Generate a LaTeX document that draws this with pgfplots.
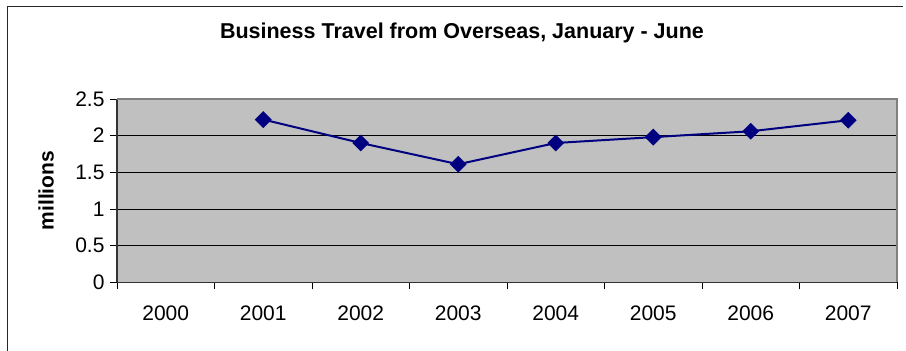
\documentclass[border=0pt]{standalone}
\usepackage{fontspec}
\setmainfont{Liberation Sans}
\usepackage{pgfplots}
\pgfplotsset{compat=1.18}
\definecolor{plotbg}{HTML}{C0C0C0}
\definecolor{navy}{HTML}{000080}
\definecolor{frametop}{HTML}{808080}
\begin{document}
\begin{tikzpicture}[x=1pt,y=1pt]
\useasboundingbox (0,0) rectangle (906,351);
\draw[line width=1.5pt, black!85] (7.5,-2) -- (7.5,344.5) -- (903,344.5);
\node[font=\fontsize{21.5}{25}\selectfont\bfseries, anchor=base] at (462,312) {Business Travel from Overseas, January - June};
\begin{axis}[
  at={(117pt,68.7pt)}, anchor=south west,
  width=780pt, height=183.3pt, scale only axis,
  xmin=-0.5, xmax=7.5, ymin=0, ymax=2.5,
  axis background/.style={fill=plotbg},
  axis x line*=bottom, axis y line*=left,
  axis line style={line width=1.2pt, black!80, -},
  xtick={0,1,2,3,4,5,6,7},
  xticklabels={2000,2001,2002,2003,2004,2005,2006,2007},
  major x tick style={draw=none},
  minor xtick={-0.5,0.5,1.5,2.5,3.5,4.5,5.5,6.5,7.5},
  ytick={0,0.5,1,1.5,2,2.5},
  yticklabels={0,0.5,1,1.5,2,2.5},
  ymajorgrids,
  grid style={black, line width=0.8pt},
  tick align=outside,
  tick style={black, line width=0.8pt},
  major tick length=7pt, minor tick length=7pt,
  ticklabel style={font=\fontsize{21}{25}\selectfont},
  xticklabel style={yshift=-13pt},
  yticklabel style={xshift=-2pt},
  ylabel={millions},
  every axis y label/.style={at={(axis description cs:-0.091,0.5)}, rotate=90, anchor=center, font=\fontsize{21}{25}\selectfont\bfseries},
  clip=false,
]
\addplot[navy, line width=2pt, mark=square*, mark size=5pt, mark options={rotate=45, solid, fill=navy}]
  coordinates {(1,2.22) (2,1.90) (3,1.61) (4,1.90) (5,1.98) (6,2.06) (7,2.21)};
\draw[frametop, line width=1.2pt] (rel axis cs:0,1) -- (rel axis cs:1,1) -- (rel axis cs:1,0);
\end{axis}
\end{tikzpicture}
\end{document}
